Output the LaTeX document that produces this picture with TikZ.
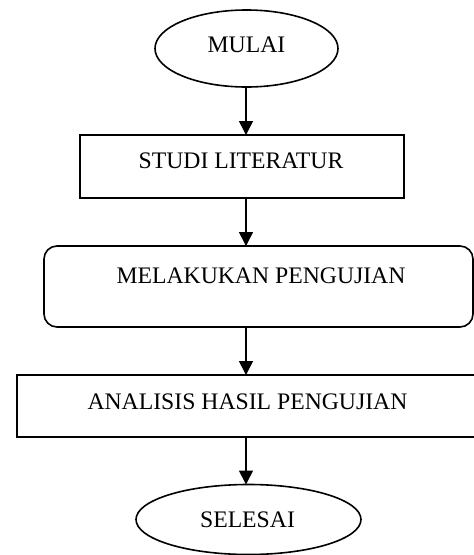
\documentclass[tikz,border=0pt]{standalone}
\usepackage{fontspec}
\setmainfont{Liberation Serif}
\usetikzlibrary{shapes.geometric,arrows.meta}
\tikzset{
  shapebox/.style={draw, line width=1.6pt, inner sep=0pt, outer sep=0pt},
  ovalbox/.style={shapebox, ellipse},
  lbl/.style={anchor=base, inner sep=0pt, font=\fontsize{23.7}{28}\selectfont},
  arr/.style={line width=1.6pt, -{Triangle[length=14pt,width=14pt]}}
}
\begin{document}
\begin{tikzpicture}[x=1pt,y=-1pt]
\clip (0,0) rectangle (474,555);
\fill[white] (0,0) rectangle (474,555);
% shapes
\node[ovalbox, minimum width=183pt, minimum height=77pt] (mulai) at (246.5,48.5) {};
\node[shapebox, minimum width=324pt, minimum height=63pt] (studi) at (242,166.5) {};
\node[shapebox, rounded corners=13pt, minimum width=429pt, minimum height=81pt] (uji) at (258.5,286.5) {};
\node[shapebox, minimum width=463pt, minimum height=62pt] (analisis) at (248.5,406) {};
\node[ovalbox, minimum width=225pt, minimum height=70pt] (selesai) at (248.5,519.5) {};
% labels
\node[lbl] (tmulai) at (246.5,52) {MULAI};
\node[lbl] (tstudi) at (241,168) {STUDI LITERATUR};
\node[lbl] (tuji) at (261,283) {MELAKUKAN PENGUJIAN};
\node[lbl] (tanalisis) at (247.5,409) {ANALISIS HASIL PENGUJIAN};
\node[lbl] (tselesai) at (247.5,527) {SELESAI};
% connectors
\coordinate (ax) at (246,0);
\draw[arr] (ax |- mulai.south) -- (ax |- studi.north);
\draw[arr] (ax |- studi.south) -- (ax |- uji.north);
\draw[arr] (ax |- uji.south) -- (ax |- analisis.north);
\draw[arr] (ax |- analisis.south) -- (ax |- selesai.north);
\end{tikzpicture}
\end{document}
